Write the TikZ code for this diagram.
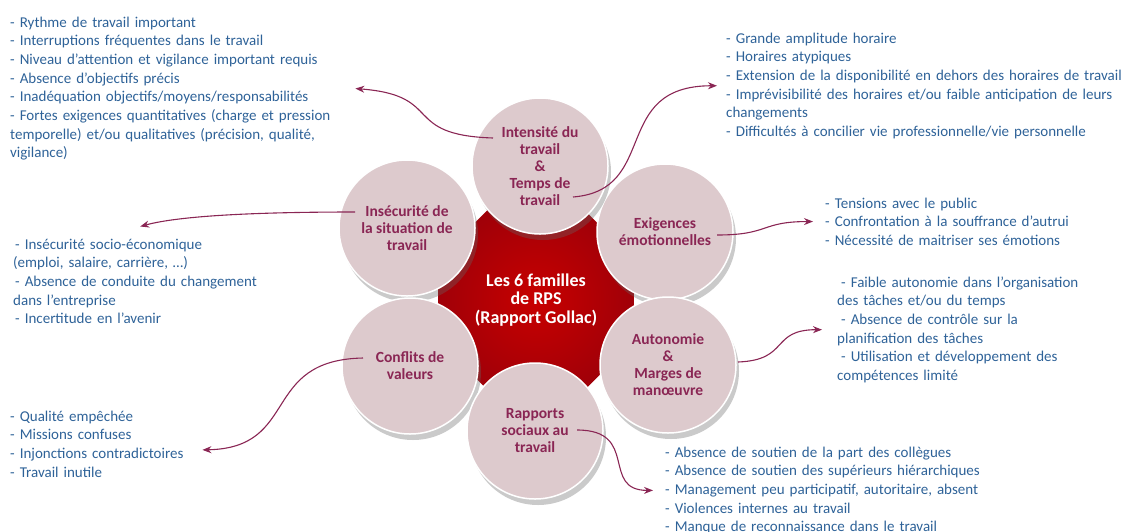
\documentclass[tikz,border=0pt]{standalone}
\usepackage{fontspec}
\setmainfont{Carlito}
\usetikzlibrary{shapes,shadows,arrows.meta,calc}
\definecolor{rpsblue}{RGB}{46,98,152}
\definecolor{rpsplum}{RGB}{138,38,84}
\definecolor{rpspink}{RGB}{221,202,205}
\definecolor{rpsred}{RGB}{200,0,0}
\definecolor{rpsdark}{RGB}{160,0,8}

\begin{document}
\begin{tikzpicture}[x=1pt,y=-1pt,
  famille/.style={circle,minimum size=136pt,inner sep=0pt,fill=rpspink,draw=white,line width=1.5pt,
    drop shadow={shadow xshift=3pt,shadow yshift=-6pt,opacity=0.35,fill=black!60},
    text=rpsplum,font=\fontsize{15.5}{17}\selectfont\bfseries,align=center},
  liste/.style={text=rpsblue,font=\fontsize{15}{18.7}\selectfont,align=left,inner sep=0pt,anchor=base west},
  lien/.style={rpsplum,line width=1.1pt,-{Stealth[length=9pt,width=7pt]}}]
  \useasboundingbox (0,0) rectangle (1123,531);
  % centre
  \node[regular polygon,regular polygon sides=8,minimum size=212pt,inner sep=0pt,
    shading=radial,inner color=rpsred,outer color=rpsdark,
    text=white,font=\fontsize{18}{18.5}\selectfont\bfseries,align=center] (rps) at (536,300)
    {Les 6 familles\\de RPS\\(Rapport Gollac)};
  % les six familles
  \node[famille] (cHoraires) at (665,232) {Exigences\\émotionnelles};
  \node[famille] (cInsec) at (407,228) {Insécurité de\\la situation de\\travail};
  \node[famille] (cIntens) at (540,166) {Intensité du\\travail\\\&\\Temps de\\travail};
  \node[famille] (cConflits) at (410,366) {Conflits de\\valeurs};
  \node[famille] (cAuto) at (668,365) {Autonomie\\\&\\Marges de\\manœuvre};
  \node[famille] (cRapports) at (535,431) {Rapports\\sociaux au\\travail};
  % listes
  \node[liste,text width=345pt] (tIntens) at (10,27)
    {- Rythme de travail important\\
     - Interruptions fréquentes dans le travail\\
     - Niveau d’attention et vigilance important requis\\
     - Absence d’objectifs précis\\
     - Inadéquation objectifs/moyens/responsabilités\\
     - Fortes exigences quantitatives (charge et pression\\
     temporelle) et/ou qualitatives (précision, qualité,\\
     vigilance)};
  \node[liste,text width=420pt] (tTemps) at (726,43)
    {- Grande amplitude horaire\\
     - Horaires atypiques\\
     - Extension de la disponibilité en dehors des horaires de travail\\
     - Imprévisibilité des horaires et/ou faible anticipation de leurs\\
     changements\\
     - Difficultés à concilier vie professionnelle/vie personnelle};
  \node[liste,text width=300pt] (tEmo) at (825,208)
    {- Tensions avec le public\\
     - Confrontation à la souffrance d’autrui\\
     - Nécessité de maitriser ses émotions};
  \node[liste,text width=280pt] (tAuto) at (837,287)
    {\hspace*{4pt}- Faible autonomie dans l’organisation\\
     des tâches et/ou du temps\\
     \hspace*{4pt}- Absence de contrôle sur la\\
     planification des tâches\\
     \hspace*{4pt}- Utilisation et développement des\\
     compétences limité};
  \node[liste,text width=280pt] (tInsec) at (13,249)
    {\hspace*{2pt}- Insécurité socio-économique\\
     (emploi, salaire, carrière, …)\\
     \hspace*{2pt}- Absence de conduite du changement\\
     dans l’entreprise\\
     \hspace*{2pt}- Incertitude en l’avenir};
  \node[liste,text width=192pt] (tConflits) at (10,421)
    {- Qualité empêchée\\
     - Missions confuses\\
     - Injonctions contradictoires\\
     - Travail inutile};
  \node[liste,text width=420pt] (tRapports) at (665,457)
    {- Absence de soutien de la part des collègues\\
     - Absence de soutien des supérieurs hiérarchiques\\
     - Management peu participatif, autoritaire, absent\\
     - Violences internes au travail\\
     - Manque de reconnaissance dans le travail};
  % liens
  \draw[lien] ([shift={(-47,-28)}]cIntens.center) .. controls +(-93,-3) and +(90,7) .. (tIntens.east);
  \draw[lien] ([shift={(33,31)}]cIntens.center) .. controls +(87,-7) and +(-107,0) .. ([xshift=-9pt]tTemps.west);
  \draw[lien] ([shift={(-52,-16)}]cInsec.center) .. controls +(-95,0) and +(40,-11) .. ([shift={(-13,-12)}]tInsec.north);
  \draw[lien] ([shift={(52,3)}]cHoraires.center) .. controls +(53,0) and +(-53,0) .. ([xshift=-12pt]tEmo.west);
  \draw[lien] ([shift={(70,-3)}]cAuto.center) .. controls +(52,-2) and +(-52,0) .. ([xshift=-15pt]tAuto.west);
  \draw[lien] ([shift={(-47,-8)}]cConflits.center) .. controls +(-103,2) and +(98,-2) .. ([shift={(0,6)}]tConflits.east);
  \draw[lien] ([shift={(42,-1)}]cRapports.center) .. controls +(63,0) and +(-53,0) .. ([xshift=-12pt]tRapports.west);
\end{tikzpicture}
\end{document}
